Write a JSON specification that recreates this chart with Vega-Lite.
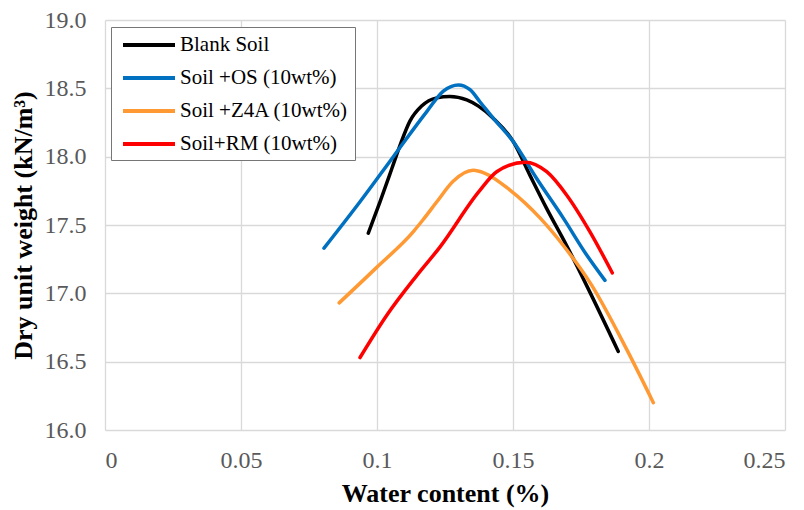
{
  "$schema": "https://vega.github.io/schema/vega-lite/v6.json",
  "width": 680,
  "height": 410,
  "autosize": "none",
  "padding": {"left": 105, "top": 20, "right": 19, "bottom": 80},
  "background": "white",
  "config": {
    "view": {"stroke": null}
  },
  "data": {
    "values": [
      {"series": "Blank Soil", "w": 0.0968, "d": 17.44},
      {"series": "Blank Soil", "w": 0.1011, "d": 17.67},
      {"series": "Blank Soil", "w": 0.1054, "d": 17.91},
      {"series": "Blank Soil", "w": 0.1085, "d": 18.085},
      {"series": "Blank Soil", "w": 0.1121, "d": 18.26},
      {"series": "Blank Soil", "w": 0.1164, "d": 18.37},
      {"series": "Blank Soil", "w": 0.122, "d": 18.43},
      {"series": "Blank Soil", "w": 0.1268, "d": 18.44},
      {"series": "Blank Soil", "w": 0.133, "d": 18.415},
      {"series": "Blank Soil", "w": 0.1373, "d": 18.37},
      {"series": "Blank Soil", "w": 0.1428, "d": 18.28},
      {"series": "Blank Soil", "w": 0.1501, "d": 18.11},
      {"series": "Blank Soil", "w": 0.1562, "d": 17.865},
      {"series": "Blank Soil", "w": 0.1624, "d": 17.62},
      {"series": "Blank Soil", "w": 0.1697, "d": 17.35},
      {"series": "Blank Soil", "w": 0.1775, "d": 17.04},
      {"series": "Blank Soil", "w": 0.1887, "d": 16.575},

      {"series": "Soil +OS  (10wt%)", "w": 0.0805, "d": 17.33},
      {"series": "Soil +OS  (10wt%)", "w": 0.09375, "d": 17.67},
      {"series": "Soil +OS  (10wt%)", "w": 0.106, "d": 18.0},
      {"series": "Soil +OS  (10wt%)", "w": 0.1183, "d": 18.33},
      {"series": "Soil +OS  (10wt%)", "w": 0.1244, "d": 18.48},
      {"series": "Soil +OS  (10wt%)", "w": 0.1299, "d": 18.525},
      {"series": "Soil +OS  (10wt%)", "w": 0.1342, "d": 18.49},
      {"series": "Soil +OS  (10wt%)", "w": 0.1379, "d": 18.4},
      {"series": "Soil +OS  (10wt%)", "w": 0.1428, "d": 18.28},
      {"series": "Soil +OS  (10wt%)", "w": 0.1501, "d": 18.11},
      {"series": "Soil +OS  (10wt%)", "w": 0.1587, "d": 17.84},
      {"series": "Soil +OS  (10wt%)", "w": 0.1685, "d": 17.55},
      {"series": "Soil +OS  (10wt%)", "w": 0.1771, "d": 17.28},
      {"series": "Soil +OS  (10wt%)", "w": 0.1838, "d": 17.095},

      {"series": "Soil +Z4A (10wt%)", "w": 0.0861, "d": 16.93},
      {"series": "Soil +Z4A (10wt%)", "w": 0.0999, "d": 17.19},
      {"series": "Soil +Z4A (10wt%)", "w": 0.1133, "d": 17.45},
      {"series": "Soil +Z4A (10wt%)", "w": 0.117, "d": 17.54},
      {"series": "Soil +Z4A (10wt%)", "w": 0.122, "d": 17.67},
      {"series": "Soil +Z4A (10wt%)", "w": 0.128, "d": 17.82},
      {"series": "Soil +Z4A (10wt%)", "w": 0.1354, "d": 17.9},
      {"series": "Soil +Z4A (10wt%)", "w": 0.1395, "d": 17.88},
      {"series": "Soil +Z4A (10wt%)", "w": 0.1489, "d": 17.755},
      {"series": "Soil +Z4A (10wt%)", "w": 0.16, "d": 17.55},
      {"series": "Soil +Z4A (10wt%)", "w": 0.1685, "d": 17.35},
      {"series": "Soil +Z4A (10wt%)", "w": 0.1789, "d": 17.06},
      {"series": "Soil +Z4A (10wt%)", "w": 0.1918, "d": 16.59},
      {"series": "Soil +Z4A (10wt%)", "w": 0.2016, "d": 16.2},

      {"series": "Soil+RM (10wt%)", "w": 0.09375, "d": 16.53},
      {"series": "Soil+RM (10wt%)", "w": 0.1036, "d": 16.84},
      {"series": "Soil+RM (10wt%)", "w": 0.1146, "d": 17.13},
      {"series": "Soil+RM (10wt%)", "w": 0.1232, "d": 17.34},
      {"series": "Soil+RM (10wt%)", "w": 0.1373, "d": 17.74},
      {"series": "Soil+RM (10wt%)", "w": 0.144, "d": 17.89},
      {"series": "Soil+RM (10wt%)", "w": 0.1544, "d": 17.96},
      {"series": "Soil+RM (10wt%)", "w": 0.1624, "d": 17.89},
      {"series": "Soil+RM (10wt%)", "w": 0.1697, "d": 17.72},
      {"series": "Soil+RM (10wt%)", "w": 0.1783, "d": 17.45},
      {"series": "Soil+RM (10wt%)", "w": 0.1865, "d": 17.15}
    ]
  },
  "mark": {"type": "line", "interpolate": "monotone", "strokeWidth": 3.5, "strokeCap": "round"},
  "encoding": {
    "x": {
      "field": "w", "type": "quantitative",
      "scale": {"domain": [0, 0.25], "nice": false, "zero": false},
      "axis": {
        "values": [0, 0.05, 0.1, 0.15, 0.2, 0.25],
        "labelExpr": "'' + datum.value",
        "title": "Water content (%)",
        "titleFont": "Liberation Serif", "titleFontSize": 26, "titleFontWeight": "bold", "titleColor": "black",
        "titlePadding": 8,
        "labelFont": "Liberation Serif", "labelFontSize": 24, "labelColor": "#595959",
        "labelPadding": 18,
        "ticks": false, "domain": false,
        "grid": true, "gridColor": "#D9D9D9", "gridWidth": 1.3
      }
    },
    "y": {
      "field": "d", "type": "quantitative",
      "scale": {"domain": [16, 19], "nice": false, "zero": false},
      "axis": {
        "values": [16, 16.5, 17, 17.5, 18, 18.5, 19],
        "format": ".1f",
        "title": "Dry unit  weight (kN/m³)",
        "titleFont": "Liberation Serif", "titleFontSize": 26, "titleFontWeight": "bold", "titleColor": "black",
        "titlePadding": 8,
        "labelFont": "Liberation Serif", "labelFontSize": 24, "labelColor": "#595959",
        "labelPadding": 19,
        "ticks": false, "domain": false,
        "grid": true, "gridColor": "#D9D9D9", "gridWidth": 1.3
      }
    },
    "color": {
      "field": "series", "type": "nominal",
      "scale": {
        "domain": ["Blank Soil", "Soil +OS  (10wt%)", "Soil +Z4A (10wt%)", "Soil+RM (10wt%)"],
        "range": ["#000000", "#0070C0", "#FF9933", "#FF0000"]
      },
      "legend": {
        "title": null,
        "orient": "none",
        "legendX": 6,
        "legendY": 7,
        "symbolType": "M-0.6,0H4.6",
        "symbolSize": 400,
        "symbolStrokeWidth": 4,
        "labelFont": "Liberation Serif",
        "labelFontSize": 21,
        "labelColor": "black",
        "labelLimit": 300,
        "labelOffset": 39,
        "rowPadding": 11,
        "padding": 6,
        "strokeColor": "#767676",
        "fillColor": "white"
      }
    }
  }
}
